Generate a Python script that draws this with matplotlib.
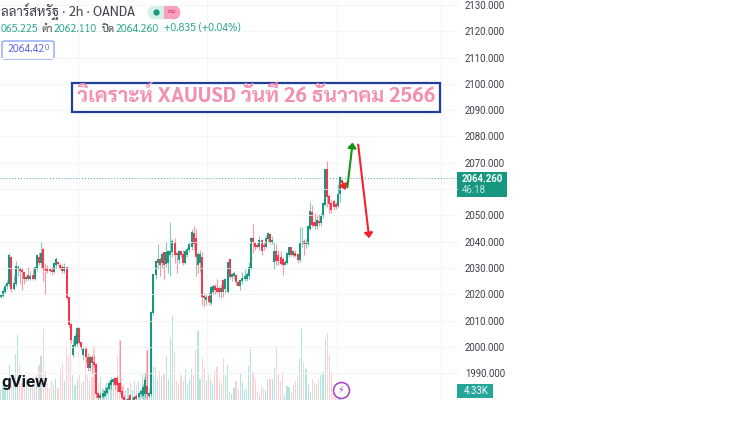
import matplotlib
matplotlib.use("Agg")
import matplotlib.pyplot as plt
from matplotlib.patches import Rectangle, FancyBboxPatch

# candles
opens = [
    2018.9, 2019.5, 2021, 2023, 2024, 2034, 2022, 2024, 2029.5, 2029.5,
    2029, 2028, 2025.8, 2027, 2026, 2027, 2026, 2030, 2034, 2032,
    2037, 2029.5, 2029.5, 2029.5, 2029, 2028.5, 2031, 2032, 2031, 2030,
    2029, 2030, 2018.5, 2008.5, 1996.8, 2000.5, 2001, 2007, 2001.5, 1997,
    1999, 1996, 1992, 1996, 1994, 1993, 1982, 1980.5, 1981, 1981.5,
    1982.5, 1984, 1985.5, 1986.5, 1988, 1988, 1986, 1983, 1980.5, 1979,
    1979.5, 1981.5, 1979, 1979.5, 1981, 1981, 1982, 1981.5, 1982, 1985,
    1981.5, 1982, 2013, 2027.5, 2032, 2033, 2031.8, 2035.6, 2031.5, 2032,
    2035, 2036, 2039.5, 2035.5, 2033, 2036, 2035, 2032, 2035, 2037,
    2038, 2043, 2041, 2031, 2032, 2034, 2019, 2018, 2019, 2016.5,
    2021, 2023, 2022, 2022, 2021, 2025, 2022, 2021, 2033, 2026.7,
    2027, 2027, 2024.5, 2023, 2025, 2026, 2026, 2027, 2030, 2041,
    2039.5, 2038.5, 2038, 2040.5, 2038.5, 2038, 2041, 2042.5, 2040, 2032.4,
    2036, 2034.5, 2034, 2033, 2031.3, 2032, 2035, 2037.5, 2035, 2035.5,
    2035, 2033, 2039.5, 2040, 2039, 2039, 2045, 2051, 2047, 2046,
    2047.5, 2047, 2050, 2054, 2067.3, 2057, 2054.5, 2055, 2054, 2053.5,
    2058,
]
highs = [
    2020, 2022.5, 2024, 2025.5, 2035.8, 2034.5, 2027.5, 2032.5, 2031, 2030.5,
    2030, 2028.5, 2027, 2030.5, 2029, 2030, 2030.5, 2035.5, 2036, 2039.7,
    2037.5, 2032, 2031, 2030, 2030.5, 2032, 2034, 2032.5, 2032, 2031.5,
    2032, 2030.5, 2019, 2009, 2003, 2005, 2007.5, 2007.5, 2002, 2000,
    2000, 1997.5, 1997, 1997, 1997, 1994, 1983, 1983, 1984, 1985,
    1985, 1987, 1988.5, 1988, 1988.5, 1989, 2002.5, 1985, 1982, 1980.5,
    1981, 1982, 1980.5, 1981, 1982, 1983, 1984, 1986, 1990, 1999,
    1983, 2013.5, 2027.5, 2032.5, 2039.3, 2034, 2036, 2036, 2040, 2037,
    2047.5, 2041, 2041.5, 2036, 2037, 2036.5, 2037, 2037, 2038, 2040,
    2045, 2046, 2045, 2036, 2037, 2036, 2020, 2020, 2021, 2023,
    2024, 2024, 2026, 2023, 2024, 2026, 2026, 2032.5, 2033.5, 2028,
    2029, 2027.6, 2025.5, 2025.5, 2028.5, 2029.5, 2028.5, 2032.4, 2041.8, 2046.8,
    2040, 2039.5, 2042, 2041, 2040, 2042.5, 2043.5, 2043, 2042, 2040,
    2039, 2037, 2036.5, 2034, 2033, 2036, 2038, 2038, 2037, 2037,
    2035.5, 2045.7, 2045.5, 2041, 2041, 2046, 2055.2, 2054, 2051, 2050,
    2050.5, 2051, 2055, 2067.5, 2070.5, 2058, 2056, 2056, 2055, 2062,
    2065.1,
]
lows = [
    2018.7, 2019, 2020.5, 2022, 2023, 2021, 2021.5, 2023, 2027, 2024,
    2021.5, 2024, 2025, 2025.5, 2025.5, 2025.5, 2025.5, 2029, 2031, 2030,
    2025, 2020, 2028, 2028.5, 2027.5, 2028, 2030, 2031, 2029.5, 2028,
    2028, 2018, 2007, 2001.5, 1996, 2000, 2000.5, 2001, 1999, 1995.5,
    1994, 1991, 1991, 1990, 1992, 1981, 1979, 1980, 1980, 1981,
    1982, 1983.5, 1984, 1985, 1984, 1983, 1982, 1980, 1978.5, 1978,
    1978.5, 1979, 1978.5, 1979, 1979.5, 1980, 1981, 1980, 1981, 1980,
    1981, 1981.5, 2012, 2026, 2030, 2027, 2030, 2026, 2030.5, 2028,
    2027, 2034, 2032, 2028, 2032, 2034, 2031, 2031.5, 2034, 2036,
    2037, 2037, 2027, 2028, 2028.5, 2016, 2015.3, 2016, 2016, 2016,
    2020, 2020, 2020.5, 2019, 2018.5, 2019, 2020.5, 2020.5, 2026, 2025,
    2026, 2023.5, 2023, 2021.7, 2024, 2025, 2025, 2026, 2029.5, 2035.6,
    2037, 2037.5, 2037, 2035, 2037, 2037.5, 2040, 2039, 2039, 2029.5,
    2031, 2031, 2031, 2027.3, 2031, 2031.5, 2034, 2034.5, 2034, 2034,
    2032, 2032.2, 2038, 2035, 2037.5, 2038.5, 2044.5, 2045.5, 2045, 2045,
    2046, 2046, 2049, 2053.5, 2053, 2051, 2051, 2052, 2052.5, 2053,
    2055,
]
closes = [
    2019.5, 2021, 2023, 2024, 2034.5, 2022, 2024, 2030.5, 2030, 2029,
    2028.5, 2026, 2026.2, 2026, 2026.5, 2026, 2030, 2034.5, 2032, 2035.5,
    2029.5, 2029.2, 2029, 2029, 2028.3, 2031.5, 2033, 2031.5, 2030, 2029,
    2030, 2018.5, 2008.5, 2002.7, 2000.5, 2004, 2006.8, 2001.5, 1999.5, 1999,
    1996, 1992, 1996, 1994, 1993, 1982, 1980.5, 1981.5, 1982, 1983,
    1984, 1986, 1987, 1987.5, 1985.5, 1985.5, 1983, 1980.5, 1979, 1979.5,
    1980, 1979.5, 1979.5, 1980.5, 1980, 1982, 1983, 1984.5, 1987, 1982,
    1982, 2013, 2027.5, 2032.5, 2033, 2031, 2035, 2031, 2035.8, 2036,
    2036, 2040, 2035, 2035, 2036, 2035, 2032, 2036, 2037, 2039,
    2043.5, 2039, 2034, 2035, 2035, 2019, 2018.5, 2018.5, 2017, 2022.5,
    2023, 2021.5, 2021, 2021, 2022, 2021, 2025.5, 2032, 2026.7, 2027.3,
    2027.7, 2024.5, 2023.3, 2025, 2026, 2026.5, 2027.5, 2030.2, 2041, 2039.5,
    2038, 2038, 2040.5, 2036.5, 2038, 2041, 2043, 2040, 2040.2, 2036,
    2032.5, 2032.5, 2031.5, 2031.3, 2031.8, 2035.5, 2037.5, 2035, 2036, 2034.5,
    2033, 2039.5, 2039.7, 2039, 2039.5, 2045.5, 2051.5, 2046.5, 2046, 2048,
    2047, 2050, 2054.5, 2067.3, 2057, 2054.5, 2052, 2053, 2053, 2058,
    2064.26,
]
# volume in thousands
volumes = [
    5, 7, 5, 6, 17, 10, 9, 22, 31, 18,
    8, 6, 10, 7, 6, 9, 8, 12, 17, 21,
    34, 14, 8, 6, 9, 7, 10, 6, 15, 18,
    9, 25, 21, 31, 12, 7, 10, 12, 8, 9,
    26, 12, 9, 11, 26, 12, 8, 11, 6, 5,
    8, 5, 7, 6, 9, 21, 29, 10, 7, 5,
    6, 8, 5, 9, 7, 9, 5, 13, 11, 24,
    6, 29, 16, 16, 10, 14, 11, 13, 21, 10,
    30, 41, 23, 9, 7, 12, 9, 15, 7, 10,
    15, 12, 24, 33, 10, 20, 16, 9, 12, 10,
    8, 14, 16, 9, 7, 20, 12, 17, 4, 3,
    6, 9, 5, 12.5, 8.5, 5, 6, 16.5, 24.5, 13.6,
    10, 3.7, 2.5, 7.4, 5.3, 4.8, 10, 10, 10, 15.2,
    26, 13, 9.3, 12.8, 2.4, 6.9, 6.4, 3.7, 7.4, 9.3,
    11.2, 20, 34, 18, 14.9, 7.7, 3.7, 10, 8, 7.7,
    10, 12, 13.6, 29.3, 32, 21.8, 13.3, 6, 4, 2,
    4.33,
]

price_ticks = list(range(1990, 2140, 10))
hidden_tick = 2060  # sits behind the last price tag
time_grid = [36.5, 97.5, 158.5, 207.6]
last_price = 2064.26

# hand drawn forecast arrows: candle position and price
arrow_x0 = [160.8, 163.5, 168.6]
arrow_x1 = [162.7, 166.0, 173.8]
arrow_p0 = [2063.2, 2060.7, 2076.9]
arrow_p1 = [2059.7, 2077.7, 2041.3]
arrow_colors = ["#f5222d", "#149414", "#f5222d"]

up_color = "#17977f"
down_color = "#f7374b"
teal_txt = "#2aa58f"
dark_txt = "#3b3f48"
grid_color = "#f3f4f6"
thai = ["Sarabun", "Noto Sans Thai", "DejaVu Sans"]
W, H = 750, 430

fig = plt.figure(figsize=(W / 100, H / 100), dpi=100)
ax_vol = fig.add_axes([0, 1 - 400 / H, 458 / W, 400 / H])
ax = ax_vol.twinx()
ax.set_zorder(2)
ax.patch.set_visible(False)

x = list(range(len(closes)))
is_up = [c >= o for o, c in zip(opens, closes)]
colors = [up_color if u else down_color for u in is_up]
vol_colors = ["#b5e3dd" if u else "#fdd0d3" for u in is_up]

ax_vol.bar(x, volumes, width=0.55, color=vol_colors, linewidth=0)
ax_vol.set_ylim(0, 192)
ax_vol.yaxis.set_visible(False)
ax_vol.set_xticks(time_grid)
ax_vol.tick_params(axis="x", length=0, labelbottom=False)
ax_vol.grid(axis="x", color=grid_color, lw=0.8)
ax_vol.set_axisbelow(True)

ax.vlines(x, lows, highs, colors=colors, lw=0.8, alpha=0.5)
ax.bar(x, [abs(c - o) + 0.3 for o, c in zip(opens, closes)],
       bottom=[min(o, c) for o, c in zip(opens, closes)],
       width=0.95, color=colors, linewidth=0)
ax.axhline(last_price, color=up_color, lw=0.7, ls=(0, (1, 2)), alpha=0.8)
for x0, x1, p0, p1, col in zip(arrow_x0, arrow_x1, arrow_p0, arrow_p1, arrow_colors):
    ax.annotate("", xy=(x1, p1), xytext=(x0, p0),
                arrowprops=dict(arrowstyle="-|>,head_width=0.25,head_length=0.3",
                                color=col, lw=1.5, shrinkA=0, shrinkB=0))

ax.set_xlim(-0.38, 215.7)
ax.set_ylim(1979.8, 2131.9)
ax.set_yticks(price_ticks)
ax.set_yticklabels(["" if p == hidden_tick else f"{p:.3f}" for p in price_ticks],
                   fontsize=6.9, family="Roboto", color=dark_txt)
ax.tick_params(axis="y", length=0, pad=5)
ax.grid(axis="y", color=grid_color, lw=0.8)
for a in (ax, ax_vol):
    for s in a.spines.values():
        s.set_visible(False)


def px_text(px, py, s, **kw):
    kw.setdefault("va", "center")
    kw.setdefault("family", thai)
    return fig.text(px / W, 1 - py / H, s, **kw)


def px_rect(px0, py0, px1, py1, **kw):
    r = Rectangle((px0 / W, 1 - py1 / H), (px1 - px0) / W, (py1 - py0) / H,
                  transform=fig.transFigure, **kw)
    fig.add_artist(r)
    return r


def px_dot(px, py, size, **kw):
    fig.add_artist(plt.Line2D([px / W], [1 - py / H], transform=fig.transFigure,
                              marker="o", ms=size, mew=kw.pop("mew", 0), **kw))


# legend text at top left
px_text(1, 11, "ลลาร์สหรัฐ · 2h · OANDA", fontsize=9.5, color=dark_txt)
px_text(1, 29, "065.225", fontsize=7.6, color=teal_txt)
px_text(41, 29, "ต่ำ", fontsize=7.6, color=dark_txt)
px_text(54, 29, "2062.110", fontsize=7.6, color=teal_txt)
px_text(102, 29, "ปิด", fontsize=7.6, color=dark_txt)
px_text(116, 29, "2064.260", fontsize=7.6, color=teal_txt)
px_text(164, 29, "+0.835 (+0.04%)", fontsize=7.6, color=teal_txt)

# status pill
px_dot(154, 12, 10, color="#d5efe9")
px_dot(173, 12, 10, color="#f7a1bd")
px_rect(154, 5, 163.5, 19, facecolor="#d5efe9", linewidth=0)
px_rect(163.5, 5, 173, 19, facecolor="#f7a1bd", linewidth=0)
px_dot(156, 12, 4.5, color=up_color)
px_text(171, 12, "≈", fontsize=8, color="#e0315f", ha="center", family="DejaVu Sans")

# price box in legend
fig.add_artist(FancyBboxPatch((2 / W, 1 - 59 / H), 52 / W, 18 / H,
                              boxstyle="round,pad=0,rounding_size=0.004",
                              transform=fig.transFigure, facecolor="white",
                              edgecolor="#7d9bf5", lw=0.9))
px_text(7, 50, "2064.42", fontsize=7.6, color="#5b63e6")
px_text(45, 48, "0", fontsize=5.6, color="#5b63e6")

# title box
px_rect(72, 83, 440, 112, facecolor="white", edgecolor="#1f3f9c", lw=1.6, zorder=4)
px_text(256, 97, "วิเคราะห์ XAUUSD วันที่ 26 ธันวาคม 2566", fontsize=14.8, color="#f58fb1",
        weight="bold", ha="center", zorder=5)

# watermark and icon
px_text(48, 383, "gView", fontsize=12.2, color="#131722", weight="bold", ha="right",
        family="Roboto")
px_dot(341, 390, 11.5, mfc="white", mec="#a94ac4", mew=1.2)
px_text(341, 390, "⚡", fontsize=7, color="#a94ac4", ha="center", family="DejaVu Sans")

# last price tags
px_rect(457, 172, 507, 197, facecolor=up_color, linewidth=0)
px_text(462, 179, "2064.260", fontsize=6.9, color="white", weight="bold", family="Roboto")
px_text(462, 190, "46:18", fontsize=6.9, color="#c4e8e0", family="Roboto")
px_rect(457, 384, 493, 398, facecolor="#26a69a", linewidth=0)
px_text(464, 391, "4.33K", fontsize=6.9, color="white", family="Roboto")

fig.savefig("out.png", dpi=100)
